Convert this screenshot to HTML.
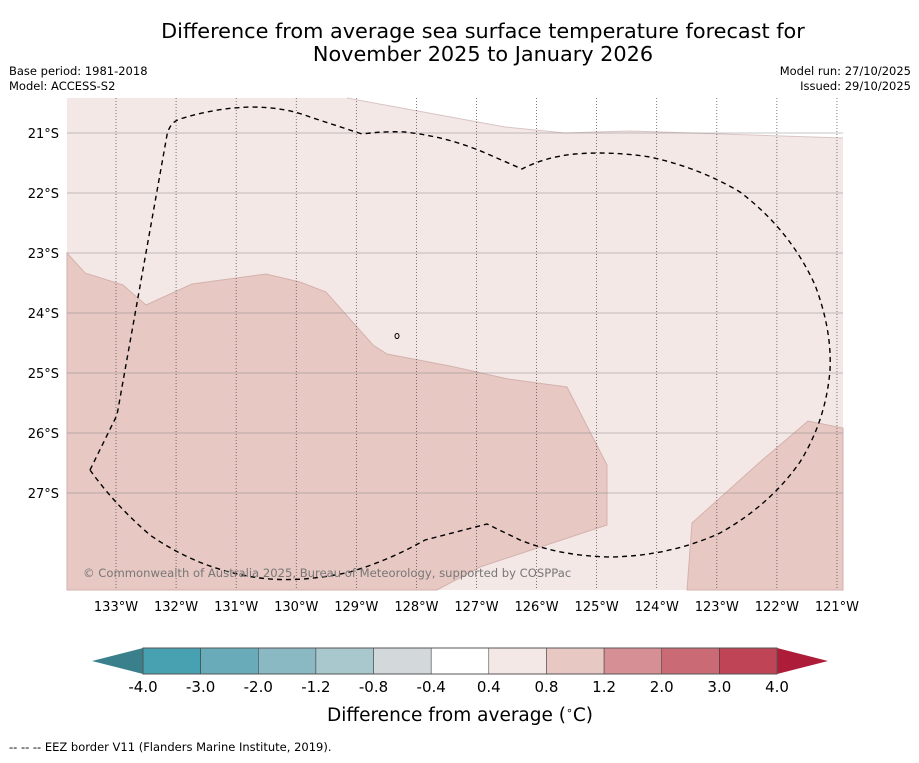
<!DOCTYPE html>
<html><head><meta charset="utf-8"><style>
body{margin:0;background:#fff;width:919px;height:758px;overflow:hidden;font-family:"Liberation Sans","DejaVu Sans",sans-serif}
svg text{font-family:"DejaVu Sans","Liberation Sans",sans-serif}
</style></head><body>
<svg id="s" width="919" height="758" xmlns="http://www.w3.org/2000/svg">
<text x="483" y="38" text-anchor="middle" font-size="20.8">Difference from average sea surface temperature forecast for</text>
<text x="483" y="61" text-anchor="middle" font-size="20.8">November 2025 to January 2026</text>
<text x="9" y="75" font-size="11.5">Base period: 1981-2018</text>
<text x="9" y="90" font-size="11.5">Model: ACCESS-S2</text>
<text x="911" y="75" font-size="11.5" text-anchor="end">Model run: 27/10/2025</text>
<text x="911" y="90" font-size="11.5" text-anchor="end">Issued: 29/10/2025</text>
<g>
<rect x="67" y="98" width="776" height="492" fill="#f4e8e7"/>
<polygon points="347,98 385,105 505,127 565,133 630,131 843,138 843,98" fill="#ffffff"/>
<polyline points="347,98 385,105 505,127 565,133 630,131 843,138" fill="none" stroke="#d9c4c3" stroke-width="1"/>
<polygon points="67,253 85,273 123,285 146,305 192,284 266,274 300,282 326,292 373,345 387,354 450,366 508,379 567,387 607,465 607,525 480,567 437,590 67,590" fill="#e7c8c3" stroke="#d4b2ad" stroke-width="1"/>
<polygon points="687,590 692,523 760,462 808,421 843,428 843,590" fill="#e7c8c3" stroke="#d4b2ad" stroke-width="1"/>
<g id="grid"></g>
<path d="M90,470 L117,415 L167,135 Q170,122 180,119 Q215,108 250,107 Q285,107 310,117 L362,134 Q385,131 405,132 Q450,137 490,155 L522,169 Q545,157 575,154 Q610,151 650,157 Q700,168 740,192 Q790,230 815,285 Q832,330 830,370 Q826,420 800,462 Q770,505 720,533 Q670,556 610,557 Q560,556 520,540 L487,524 L425,540 Q390,560 350,572 Q300,583 260,578 Q200,570 150,535 Q115,505 90,470 Z" fill="none" stroke="#000" stroke-width="1.4" stroke-dasharray="5,4"/>
<ellipse cx="397" cy="336" rx="2" ry="2.5" fill="none" stroke="#000"/>
<text x="83" y="577" font-size="11.6" fill="#777">© Commonwealth of Australia 2025, Bureau of Meteorology, supported by COSPPac</text>
</g>
<g id="cb"></g>
<text x="460" y="721" text-anchor="middle" font-size="18.5">Difference from average (<tspan font-size="11" dy="-7">∘</tspan><tspan dy="7">C)</tspan></text>
<text x="9" y="751" font-size="11.5">--  --  -- EEZ border V11 (Flanders Marine Institute, 2019).</text>
</svg>
<script>
const lonTicks=[133,132,131,130,129,128,127,126,125,124,123,122,121];
const latTicks=[21,22,23,24,25,26,27];
const cbTicks=["-4.0","-3.0","-2.0","-1.2","-0.8","-0.4","0.4","0.8","1.2","2.0","3.0","4.0"];
const cbColors=["#48a1b0","#69abb9","#8ab8c3","#a9c8cd","#d3d8db","#ffffff","#f4e8e7","#e7c8c3","#d68f95","#c96a74","#bf4556"];
const NS="http://www.w3.org/2000/svg";
const xOf=l=>116+(133-l)*60.08, yOf=l=>133+(l-21)*60;
const g=document.getElementById('grid'), s=document.getElementById('s'), cb=document.getElementById('cb');
function mk(t,a,p){const e=document.createElementNS(NS,t);for(const k in a)e.setAttribute(k,a[k]);p.appendChild(e);return e;}
lonTicks.forEach(l=>{const x=xOf(l);
 const ln=mk('line',{x1:x,x2:x,y1:98,y2:590,stroke:'#444','stroke-width':0.7,'stroke-dasharray':'1,2'},g);
 
 
 const t=mk('text',{x:x,y:611,'text-anchor':'middle','font-size':13},s);t.textContent=l+'°W';
 
 });
latTicks.forEach(l=>{const y=yOf(l);
 const ln=mk('line',{x1:67,x2:843,y1:y,y2:y,stroke:'#8a8a8a','stroke-width':0.6},g);
 
 
 const t=mk('text',{x:59,y:y+5,'text-anchor':'end','font-size':13},s);t.textContent=l+'°S';
 
 });
const x0=143,x1=777,w=(x1-x0)/cbColors.length;
cbColors.forEach((c,i)=>{const r=mk('rect',{x:x0+i*w,y:648,width:w,height:26,fill:c,stroke:'#333','stroke-width':0.5},cb);
 
 });
const lt=mk('polygon',{points:'143,648 92,661 143,674',fill:'#3a808c'},cb);


const rt=mk('polygon',{points:'777,648 828,661 777,674',fill:'#ad1d3a'},cb);


mk('rect',{x:143,y:648,width:634,height:26,fill:'none',stroke:'#555','stroke-width':1},cb);
cbTicks.forEach((t,i)=>{const e=mk('text',{x:x0+i*w,y:692,'text-anchor':'middle','font-size':15},cb);e.textContent=t;
 
 });
</script>
</body></html>
